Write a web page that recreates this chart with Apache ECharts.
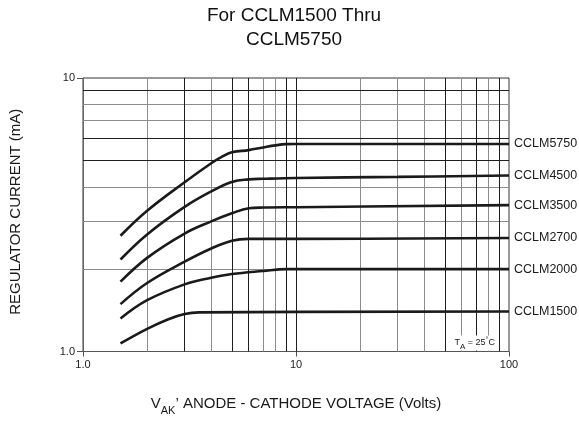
<!DOCTYPE html>
<html>
<head>
<meta charset="utf-8">
<script src="https://cdn.jsdelivr.net/npm/echarts@6/dist/echarts.min.js"></script>
<style>
html, body { margin: 0; padding: 0; background: #fff; }
#main { width: 579px; height: 421px; }
</style>
</head>
<body>
<div id="main"></div>
<script>
// values (V, mA)
var seriesNames = ['CCLM5750', 'CCLM4500', 'CCLM3500', 'CCLM2700', 'CCLM2000', 'CCLM1500'];
var cclm5750 = [[1.5, 2.65], [2, 3.27], [3, 4.16], [4, 4.88], [4.5, 5.16], [5, 5.35], [6, 5.45], [7, 5.57], [8, 5.67], [9, 5.73], [10, 5.74], [100, 5.74]];
var cclm4500 = [[1.5, 2.17], [2, 2.68], [3, 3.38], [4, 3.85], [5, 4.17], [6, 4.26], [7, 4.28], [10, 4.31], [30, 4.35], [100, 4.40]];
var cclm3500 = [[1.5, 1.80], [2, 2.20], [3, 2.70], [4, 2.99], [5, 3.20], [6, 3.34], [7, 3.36], [10, 3.37], [100, 3.43]];
var cclm2700 = [[1.5, 1.49], [2, 1.78], [3, 2.13], [4, 2.38], [5, 2.54], [6, 2.58], [10, 2.58], [100, 2.60]];
var cclm2000 = [[1.5, 1.32], [2, 1.54], [3, 1.76], [4, 1.86], [5, 1.92], [7, 1.97], [9, 2.0], [100, 2.0]];
var cclm1500 = [[1.5, 1.07], [2, 1.21], [2.5, 1.31], [3, 1.37], [3.5, 1.39], [100, 1.40]];
var seriesData = [cclm5750, cclm4500, cclm3500, cclm2700, cclm2000, cclm1500];

// log grid lines
var xGridDark = [3, 5, 6, 9, 10, 50, 70, 90];
var xGridLight = [2, 4, 7, 8, 20, 30, 40, 60, 80];
var yGridDark = [5, 6, 9];
var yGridLight = [2, 3, 4, 7, 8];

var FONT = 'Liberation Sans, Arial, Helvetica, sans-serif';
var myChart = echarts.init(document.getElementById('main'), null, { renderer: 'canvas' });

function gridLines(vals, axis, color) {
	var out = [];
	for (var i = 0; i < vals.length; i++) {
		var item = {};
		item[axis] = vals[i];
		item.lineStyle = { color: color, width: 1, type: 'solid' };
		out.push(item);
	}
	return out;
}

var markData = []
	.concat(gridLines(xGridLight, 'xAxis', '#8c8c8c'))
	.concat(gridLines(yGridLight, 'yAxis', '#8c8c8c'))
	.concat(gridLines(xGridDark, 'xAxis', '#1e1e1e'))
	.concat(gridLines(yGridDark, 'yAxis', '#1e1e1e'));

var series = [{
	type: 'line',
	name: 'grid',
	data: [],
	z: 1,
	silent: true,
	markLine: {
		silent: true,
		symbol: ['none', 'none'],
		label: { show: false },
		animation: false,
		data: markData
	}
}];

for (var i = 0; i < seriesNames.length; i++) {
	series.push({
		type: 'line',
		name: seriesNames[i],
		data: seriesData[i],
		z: 5,
		smooth: 0.4,
		showSymbol: false,
		symbol: 'none',
		lineStyle: { color: '#1a1a1a', width: 2.6 },
		endLabel: {
			show: true,
			formatter: '{a}',
			distance: 5,
			color: '#1a1a1a',
			fontFamily: FONT,
			fontSize: 12.5
		}
	});
}

var option = {
	animation: false,
	backgroundColor: '#fff',
	grid: {
		left: 81, right: 70, top: 78, bottom: 66,
		show: true,
		borderColor: '#333',
		borderWidth: 1,
		containLabel: false
	},
	xAxis: {
		type: 'log',
		logBase: 10,
		min: 1,
		max: 100,
		name: '{v|V}{s|AK}{n|’ ANODE - CATHODE VOLTAGE (Volts)}',
		nameLocation: 'middle',
		nameGap: 43,
		nameTextStyle: {
			fontFamily: FONT,
			color: '#1a1a1a',
			rich: {
				v: { fontSize: 15, fontFamily: FONT, color: '#1a1a1a', lineHeight: 18 },
				s: { fontSize: 11, fontFamily: FONT, color: '#1a1a1a', lineHeight: 12, padding: [14, 0, 0, 0] },
				n: { fontSize: 15, fontFamily: FONT, color: '#1a1a1a', lineHeight: 18 }
			}
		},
		axisLine: { show: true, lineStyle: { color: '#555', width: 1 } },
		axisTick: { show: true, inside: false, length: 5, lineStyle: { color: '#555' } },
		axisLabel: {
			fontFamily: FONT, fontSize: 11, color: '#222', margin: 8,
			formatter: function (v) { return v === 1 ? '1.0' : String(Math.round(v)); }
		},
		splitLine: { show: false },
		minorTick: { show: false },
		minorSplitLine: { show: false }
	},
	yAxis: {
		type: 'log',
		logBase: 10,
		min: 1,
		max: 10,
		name: 'REGULATOR CURRENT (mA)',
		nameLocation: 'middle',
		nameGap: 60,
		nameTextStyle: { fontFamily: FONT, fontSize: 15, color: '#1a1a1a', padding: [0, 0, 0, 6] },
		axisLine: { show: true, lineStyle: { color: '#666', width: 1 } },
		axisTick: { show: true, inside: false, length: 6, lineStyle: { color: '#555' } },
		axisLabel: {
			fontFamily: FONT, fontSize: 11, color: '#222', margin: 8,
			formatter: function (v) { return v === 1 ? '1.0' : String(Math.round(v)); }
		},
		splitLine: { show: false }
	},
	series: series
};

myChart.setOption(option);

// title and temperature note
var noteAt = myChart.convertToPixel({ gridIndex: 0 }, [69, 1.075]);
myChart.setOption({
	graphic: [{
		type: 'text',
		x: 294,
		y: 28,
		style: {
			text: 'For CCLM1500 Thru\nCCLM5750',
			fontFamily: FONT,
			fontSize: 19,
			lineHeight: 24,
			fill: '#111',
			textAlign: 'center',
			textVerticalAlign: 'middle'
		}
	}, {
		type: 'text',
		x: noteAt[0],
		y: noteAt[1],
		z: 10,
		style: {
			text: '{t|T}{s|A}{t| = 25}{d|°}{t|C}',
			fontFamily: FONT,
			textAlign: 'center',
			textVerticalAlign: 'middle',
			backgroundColor: '#fff',
			padding: [2, 2, 2, 2],
			rich: {
				t: { fontSize: 9, fontFamily: FONT, fill: '#222', lineHeight: 11 },
				s: { fontSize: 8, fontFamily: FONT, fill: '#222', lineHeight: 8, padding: [8, 0, 0, 0] },
				d: { fontSize: 7, fontFamily: FONT, fill: '#222', lineHeight: 7, padding: [0, 0, 6, 0] }
			}
		}
	}]
});
</script>
</body>
</html>
